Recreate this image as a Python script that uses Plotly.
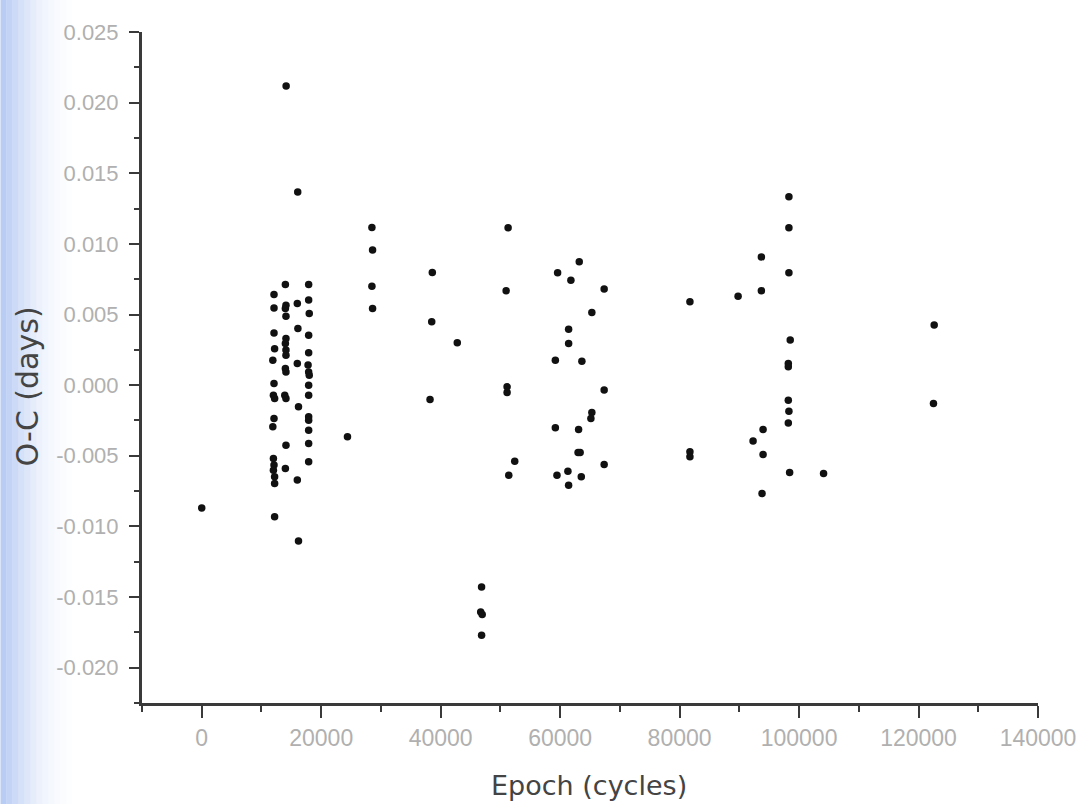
import plotly.graph_objects as go

epoch = [
    # cluster ~12000
    12100, 12100, 12100, 12200, 11900, 12100, 12000, 12200, 12100, 11900, 12000, 12100, 12000, 12200, 12200, 12200,
    # cluster ~14000
    14000, 14100, 14000, 14100, 14100, 14000, 14100, 14100, 14000, 14100, 13900, 14100, 14100, 14000, 14130,
    # cluster ~16000
    16000, 16100, 16000, 16200, 16000, 16070, 16200,
    # cluster ~17900
    17900, 17900, 18000, 17900, 17900, 17800, 17900, 18000, 17900, 17900, 17900, 17900, 17900, 17900, 17900,
    0, 24400,
    28490, 28600, 28490, 28600,
    38600, 38500, 42780, 38220,
    51290, 50960, 51120, 51120, 52400, 51400,
    46850, 46700, 46950, 46850,
    63200, 59580, 61800, 67370, 65310, 61420, 61420, 59200, 63640, 67370, 65310, 65150,
    59200, 63090, 63000, 63350, 67370, 59470, 61300, 63540, 61420,
    81730, 81730, 81730, 89790,
    98300, 98300, 93690, 98300, 93690, 98520, 98200, 98200, 98200, 98300, 98200,
    93970, 92300, 93970, 98420, 104100, 93800,
    122620, 122500,
]
oc = [
    0.00642, 0.00547, 0.00370, 0.00257, 0.00177, 0.00012, -0.00071, -0.00094, -0.00236, -0.00295, -0.00519, -0.00566, -0.00602, -0.00649, -0.00696, -0.00932,
    0.00713, 0.00566, 0.00543, 0.00488, 0.00330, 0.00295, 0.00248, 0.00212, 0.00118, 0.00094, -0.00071, -0.00094, -0.00425, -0.00590, 0.02117,
    0.00578, 0.00401, 0.00153, -0.00153, -0.00672, 0.01368, -0.01104,
    0.00713, 0.00602, 0.00508, 0.00354, 0.00229, 0.00142, 0.00094, 0.00071, 0.00000, -0.00071, -0.00224, -0.00248, -0.00319, -0.00413, -0.00543,
    -0.00869, -0.00366,
    0.01116, 0.00956, 0.00701, 0.00543,
    0.00798, 0.00448, 0.00300, -0.00101,
    0.01114, 0.00668, -0.00012, -0.00052, -0.00538, -0.00637,
    -0.01428, -0.01605, -0.01623, -0.01770,
    0.00873, 0.00795, 0.00743, 0.00680, 0.00515, 0.00396, 0.00295, 0.00177, 0.00170, -0.00035, -0.00193, -0.00236,
    -0.00302, -0.00314, -0.00476, -0.00476, -0.00561, -0.00637, -0.00609, -0.00649, -0.00708,
    0.00590, -0.00472, -0.00507, 0.00630,
    0.01333, 0.01114, 0.00908, 0.00795, 0.00668, 0.00319, 0.00153, 0.00130, -0.00106, -0.00184, -0.00267,
    -0.00314, -0.00396, -0.00491, -0.00618, -0.00625, -0.00767,
    0.00425, -0.00130,
]

x_tickvals = [0, 20000, 40000, 60000, 80000, 100000, 120000, 140000]
x_ticktext = ["0", "20000", "40000", "60000", "80000", "100000", "120000", "140000"]
y_tickvals = [-0.020, -0.015, -0.010, -0.005, 0.0, 0.005, 0.010, 0.015, 0.020, 0.025]
y_ticktext = ["-0.020", "-0.015", "-0.010", "-0.005", "0.000", "0.005", "0.010", "0.015", "0.020", "0.025"]
x_title = "Epoch (cycles)"
y_title = "O-C (days)"

fig = go.Figure()
fig.add_trace(go.Scatter(
    x=epoch, y=oc, mode="markers",
    marker=dict(size=7.5, color="#111111", line=dict(width=0)),
    showlegend=False,
))

PW, PH, L, B = 899, 671, 142, 101
# faint blue scan-edge gradient on the left
shapes = []
ops = [0.55, 0.48, 0.40, 0.33, 0.26, 0.20, 0.15, 0.11, 0.08, 0.05, 0.03, 0.015]
for i, op in enumerate(ops):
    shapes.append(dict(type="rect", xref="paper", yref="paper",
                       x0=(-L + i * 6) / PW, x1=(-L + (i + 1) * 6) / PW,
                       y0=-B / PH, y1=(PH + 40) / PH,
                       fillcolor="#7fa3ea", opacity=op, line=dict(width=0), layer="below"))

fig.update_layout(
    width=1088, height=804,
    margin=dict(l=L, r=47, t=32, b=B),
    paper_bgcolor="white", plot_bgcolor="rgba(0,0,0,0)",
    font=dict(family="Liberation Sans, Arial, sans-serif"),
    shapes=shapes,
    xaxis=dict(
        range=[-10000, 140000], showgrid=False, zeroline=False,
        showline=True, linecolor="#3a3a3a", linewidth=3,
        tickmode="array", tickvals=x_tickvals, ticktext=x_ticktext,
        ticks="outside", ticklen=12, tickwidth=2, tickcolor="#3a3a3a",
        ticklabelstandoff=0,
        tickfont=dict(size=23, color="#b0b0b0"),
        minor=dict(tickvals=[-10000, 10000, 30000, 50000, 70000, 90000, 110000, 130000],
                   ticks="outside", ticklen=6, tickwidth=2, tickcolor="#3a3a3a"),
    ),
    yaxis=dict(
        range=[-0.0225, 0.025], showgrid=False, zeroline=False,
        showline=True, linecolor="#3a3a3a", linewidth=3,
        tickmode="array", tickvals=y_tickvals, ticktext=y_ticktext,
        ticks="outside", ticklen=10, tickwidth=2, tickcolor="#3a3a3a",
        ticklabelstandoff=6,
        tickfont=dict(size=22, color="#b0b0b0"),
        minor=dict(tickvals=[-0.0225, -0.0175, -0.0125, -0.0075, -0.0025, 0.0025, 0.0075, 0.0125, 0.0175, 0.0225],
                   ticks="outside", ticklen=5, tickwidth=2, tickcolor="#3a3a3a"),
    ),
    annotations=[
        dict(text=x_title, xref="paper", yref="paper", x=(590 - L) / PW, y=(703 - 785) / PH,
             xanchor="center", yanchor="middle", showarrow=False,
             font=dict(family="DejaVu Sans", size=27, color="#444444")),
        dict(text=y_title, xref="paper", yref="paper", x=(27 - L) / PW, y=(703 - 386) / PH,
             xanchor="center", yanchor="middle", showarrow=False, textangle=-90,
             font=dict(family="DejaVu Sans", size=30, color="#444444")),
    ],
)

fig.write_html("out.html", config={"displayModeBar": False},
               post_script="document.body.style.margin='0';")
